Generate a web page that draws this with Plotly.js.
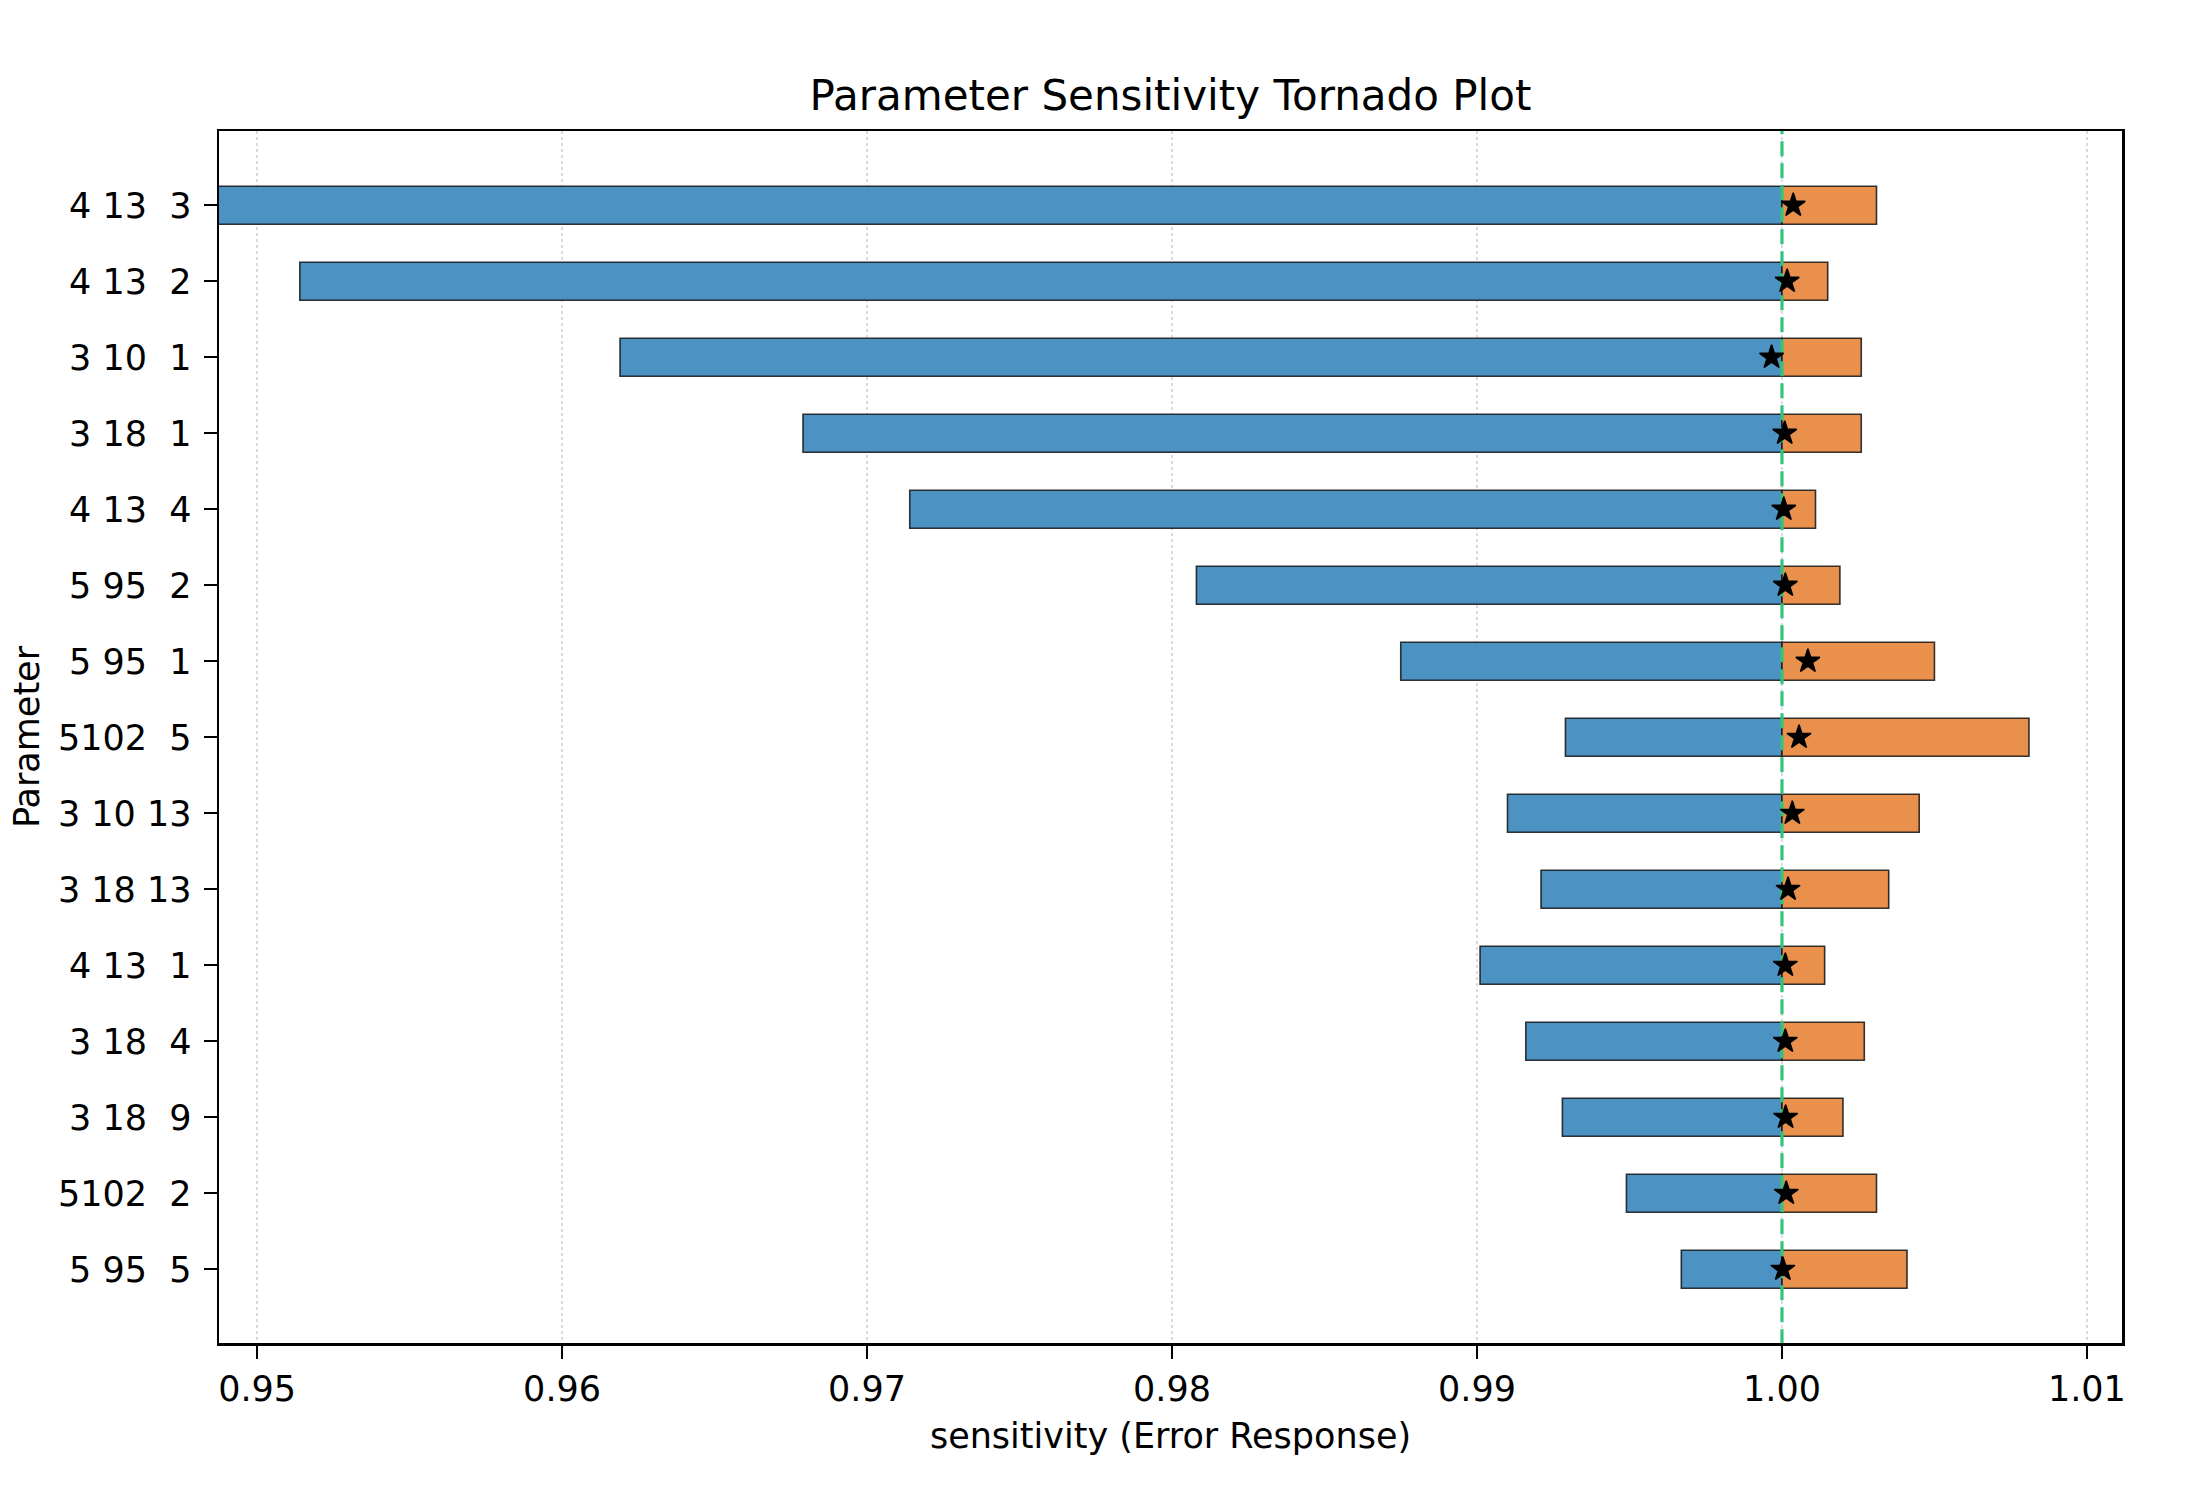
<!DOCTYPE html>
<html>
<head>
<meta charset="utf-8">
<script src="https://cdn.plot.ly/plotly-3.0.1.min.js"></script>
<style>
  html, body { margin: 0; padding: 0; background: #fff; }
  #chart { width: 2186px; height: 1510px; }
</style>
</head>
<body>
<div id="chart"></div>
<script>
// Parameter labels, top to bottom (format "%d%3d%3d")
const params = ["4 13  3", "4 13  2", "3 10  1", "3 18  1", "4 13  4", "5 95  2", "5 95  1",
                "5102  5", "3 10 13", "3 18 13", "4 13  1", "3 18  4", "3 18  9", "5102  2", "5 95  5"];

// Error response at the low end of each parameter's range
const lowResponse = [0.9478, 0.9514, 0.9619, 0.9679, 0.9714, 0.9808, 0.9875,
                     0.9929, 0.9910, 0.9921, 0.9901, 0.9916, 0.9928, 0.9949, 0.9967];

// Error response at the high end of each parameter's range
const highResponse = [1.0031, 1.0015, 1.0026, 1.0026, 1.0011, 1.0019, 1.0050,
                      1.0081, 1.0045, 1.0035, 1.0014, 1.0027, 1.0020, 1.0031, 1.0041];

// Response at the nominal (base) parameter value
const baseResponse = [1.00037, 1.00017, 0.99966, 1.00009, 1.00006, 1.00011, 1.00085,
                      1.00056, 1.00034, 1.00020, 1.00011, 1.00011, 1.00012, 1.00014, 1.00003];

const reference = 1.0;
const xTicks = [0.95, 0.96, 0.97, 0.98, 0.99, 1.00, 1.01];

const rowPos = params.map((_, i) => i);
const label = s => s.replace(/ /g, "\u00a0");
const FONT = "DejaVu Sans, Liberation Sans, sans-serif";

const barLine = { color: "rgba(20,20,20,0.85)", width: 1.6 };

const traces = [
  {
    type: "bar", orientation: "h",
    y: rowPos,
    x: lowResponse.map(v => v - reference),
    base: reference,
    width: 0.5,
    marker: { color: "#4c92c3", line: barLine },
    hoverinfo: "skip", showlegend: false
  },
  {
    type: "bar", orientation: "h",
    y: rowPos,
    x: highResponse.map(v => v - reference),
    base: reference,
    width: 0.5,
    marker: { color: "#e8904c", line: barLine },
    hoverinfo: "skip", showlegend: false
  },
  {
    // reference line at 1.0
    type: "scatter", mode: "lines",
    x: [reference, reference],
    y: [-2, params.length + 1],
    line: { color: "#35c27a", width: 3.2, dash: "15px,7px" },
    hoverinfo: "skip", showlegend: false
  },
  {
    type: "scatter", mode: "markers",
    x: baseResponse,
    y: rowPos,
    marker: { symbol: "star", size: 18, color: "#000", line: { color: "#000", width: 1.5 } },
    hoverinfo: "skip", showlegend: false
  }
];

const layout = {
  width: 2186, height: 1510,
  margin: { l: 219, r: 64, t: 131, b: 167, pad: 0 },
  paper_bgcolor: "#fff", plot_bgcolor: "#fff",
  barmode: "overlay",
  font: { family: FONT, color: "#000", size: 35 },
  title: {
    text: "Parameter Sensitivity Tornado Plot",
    font: { family: FONT, size: 42, color: "#000" },
    x: 0.5, xref: "paper", xanchor: "center",
    y: 1 - 95 / 1510, yref: "container", yanchor: "middle"
  },
  xaxis: {
    range: [0.94875, 1.01115],
    tickvals: xTicks,
    ticktext: xTicks.map(v => v.toFixed(2)),
    ticks: "outside", ticklen: 13, tickwidth: 2, tickcolor: "#000",
    tickfont: { family: FONT, size: 35, color: "#000" },
    showgrid: true, gridcolor: "#dadada", gridwidth: 1.5, griddash: "dot",
    zeroline: false,
    showline: true, linecolor: "#000", linewidth: 2.5, mirror: true,
    title: { text: "sensitivity (Error Response)", font: { family: FONT, size: 35, color: "#000" }, standoff: 16 },
    automargin: false
  },
  yaxis: {
    range: [params.length - 1 + 0.97, -0.977],
    tickvals: rowPos,
    ticktext: params.map(label),
    ticks: "outside", ticklen: 13, tickwidth: 2, tickcolor: "#000",
    ticklabelstandoff: 5,
    tickfont: { family: FONT, size: 35, color: "#000" },
    showgrid: false, zeroline: false,
    showline: true, linecolor: "#000", linewidth: 2.5, mirror: true,
    title: { text: "Parameter", font: { family: FONT, size: 35, color: "#000" }, standoff: 8 },
    automargin: false
  }
};

Plotly.newPlot("chart", traces, layout, { displayModeBar: false, staticPlot: true });
</script>
</body>
</html>
